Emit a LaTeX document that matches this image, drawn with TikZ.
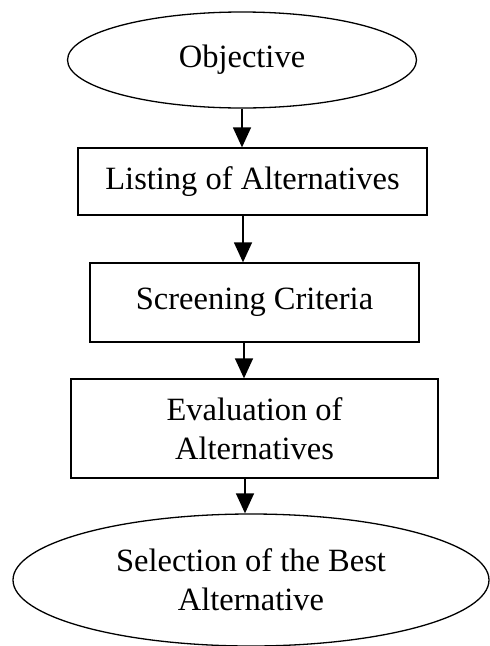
\documentclass[tikz,border=0pt]{standalone}
\usepackage{fontspec}
\setmainfont{Liberation Serif}
\usetikzlibrary{shapes.geometric,arrows.meta}
\begin{document}
\begin{tikzpicture}[x=1pt,y=-1pt,
  every node/.style={font=\fontsize{32.5}{39}\selectfont},
  stepbox/.style={draw,line width=1.3pt,rectangle,inner sep=0pt,align=center},
  oval/.style={draw,line width=1.3pt,ellipse,inner sep=0pt,align=center},
  arr/.style={line width=1.4pt,-{Triangle[length=20pt,width=18pt]}}]
\useasboundingbox (0,0) rectangle (490,646);
\node[oval,minimum width=349pt,minimum height=96pt] (obj) at (242,60) {Objective};
\node[stepbox,minimum width=349pt,minimum height=67pt] (list) at (252.5,181.5) {Listing of Alternatives};
\node[stepbox,minimum width=329pt,minimum height=79pt] (scr) at (254.5,302.5) {Screening Criteria};
\node[stepbox,minimum width=367pt,minimum height=99pt] (eval) at (254.5,428.5) {Evaluation of\\Alternatives};
\node[oval,minimum width=476pt,minimum height=132pt] (sel) at (251,580) {Selection of the Best\\Alternative};
\draw[arr] (obj.south) -- (obj.south |- list.north);
\draw[arr] (obj.south |- list.south) ++(1,0) coordinate (a2) -- (a2 |- scr.north);
\draw[arr] (obj.south |- scr.south) ++(2,0) coordinate (a3) -- (a3 |- eval.north);
\draw[arr] (obj.south |- eval.south) ++(3,0) coordinate (a4) -- (a4 |- sel.north);
\end{tikzpicture}
\end{document}
